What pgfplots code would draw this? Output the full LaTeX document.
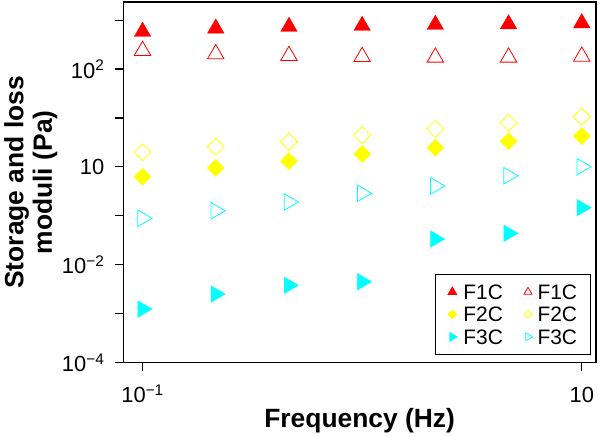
\documentclass[border=0pt]{standalone}
\usepackage{pgfplots}
\pgfplotsset{compat=1.18}
\usepackage{fontspec}
\setmainfont{Liberation Sans}
\definecolor{cR}{RGB}{255,0,0}
\definecolor{cY}{RGB}{255,255,0}
\definecolor{cC}{RGB}{0,255,255}
\begin{document}
\begin{tikzpicture}
\begin{axis}[
  scale only axis, width=472.7bp, height=360.7bp,
  xmode=log, ymode=log,
  xmin=0.0817, xmax=11.61,
  ymin=1e-4, ymax=2339,
  axis line style={line width=1.2bp},
  every tick/.style={line width=1.1bp, black},
  tick align=outside, major tick length=8bp,
  xtick pos=left, ytick pos=left,
  xminorticks=false, yminorticks=false,
  xtick={0.1,10}, xticklabels={10\textsuperscript{−1},10},
  ytick={1e-4,1e-3,1e-2,1e-1,1,10,100,1000},
  yticklabels={10\textsuperscript{−4},,10\textsuperscript{−2},,10,,10\textsuperscript{2},},
  tick label style={font=\fontsize{22}{24}\selectfont, inner sep=0pt},
  xticklabel style={anchor=base, yshift=-32.3bp},
  yticklabel style={anchor=east, xshift=-10.8bp},
  xlabel={Frequency (Hz)},
  ylabel={Storage and loss\\moduli (Pa)},
  label style={font=\fontsize{26.5}{28.5}\selectfont\bfseries, inner sep=0pt},
  xlabel style={at={(axis description cs:0.5,-0.181)}, anchor=base},
  ylabel style={align=center, at={(axis description cs:-0.1392,0.5)}, anchor=south},
  legend columns=2,
  legend cell align=left,
  legend style={at={(1,0)}, anchor=south east, xshift=-5.3bp, yshift=7.7bp,
    draw=black, line width=1.2bp, font=\fontsize{21}{23}\selectfont,
    inner xsep=13bp, inner ysep=10bp, row sep=7.5bp,
    nodes={inner sep=0pt, text height=15bp, text depth=0pt},
    /tikz/column 1/.style={column sep=6.5bp},
    /tikz/column 2/.style={column sep=21bp},
    /tikz/column 3/.style={column sep=5bp}},
  legend image code/.code={\draw[#1, every mark/.append style={scale=0.48}] plot coordinates {(0bp,0bp)};},
]
\addplot[only marks, mark=triangle*, mark size=9.5bp, color=cR, mark options={fill=cR, draw=cR}]
 coordinates {(0.1,578) (0.2154,675) (0.4642,731) (1,767) (2.154,804) (4.642,826) (10,866)};
\addlegendentry{F1C}
\addplot[only marks, mark=triangle, mark size=9.5bp, color=cR, line width=0.8bp]
 coordinates {(0.1,237) (0.2154,202) (0.4642,187) (1,178) (2.154,173) (4.642,173) (10,181)};
\addlegendentry{F1C}
\addplot[only marks, mark=square*, mark size=6bp, color=cY, mark options={rotate=45, fill=cY, draw=cY}]
 coordinates {(0.1,0.63) (0.2154,0.96) (0.4642,1.32) (1,1.83) (2.154,2.47) (4.642,3.33) (10,4.28)};
\addlegendentry{F2C}
\addplot[only marks, mark=square, mark size=6bp, color=cY, line width=0.8bp, mark options={rotate=45}]
 coordinates {(0.1,1.99) (0.2154,2.59) (0.4642,3.27) (1,4.48) (2.154,5.95) (4.642,8.0) (10,10.6)};
\addlegendentry{F2C}
\addplot[only marks, mark=triangle*, mark size=9.5bp, color=cC, mark options={rotate=-90, fill=cC, draw=cC}]
 coordinates {(0.1,0.00125) (0.2154,0.00253) (0.4642,0.00381) (1,0.00452) (2.154,0.0337) (4.642,0.044) (10,0.147)};
\addlegendentry{F3C}
\addplot[only marks, mark=triangle, mark size=9.5bp, color=cC, line width=0.8bp, mark options={rotate=-90}]
 coordinates {(0.1,0.0891) (0.2154,0.127) (0.4642,0.192) (1,0.289) (2.154,0.407) (4.642,0.661) (10,1.01)};
\addlegendentry{F3C}
\end{axis}
\pgfresetboundingbox
\path ([shift={(-123.3bp,-74.3bp)}]current axis.south west) rectangle ([shift={(4bp,2bp)}]current axis.north east);
\end{tikzpicture}
\end{document}
